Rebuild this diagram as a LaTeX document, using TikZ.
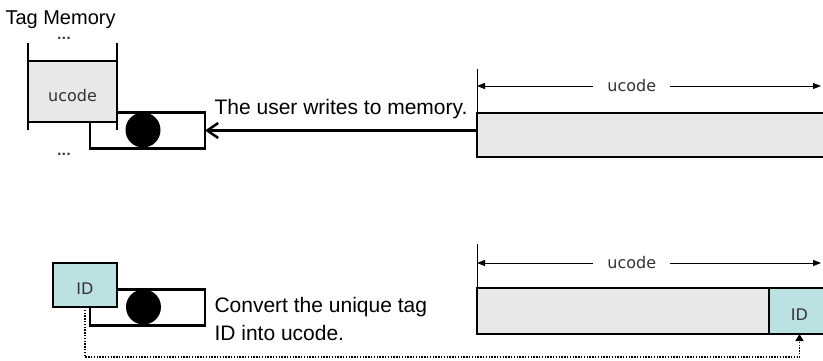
\documentclass[tikz,border=0pt]{standalone}
\usepackage{fontspec}
\setmainfont{Liberation Sans}
\newfontfamily\tagfont{DejaVu Sans}
\usetikzlibrary{arrows.meta, positioning}

\definecolor{cellgray}{HTML}{E8E8E8}
\definecolor{idcyan}{HTML}{BBE1E3}
\definecolor{labelgray}{HTML}{333333}

\begin{document}
\begin{tikzpicture}[x=1pt, y=-1pt,
    box/.style={draw, line width=2.5pt, inner sep=0pt, outer sep=0pt},
    reader/.style={box, fill=white, minimum width=115pt, minimum height=36pt},
    tag/.style={font=\tagfont\fontsize{16}{18}\selectfont, text=labelgray},
    idbox/.style={box, tag, fill=idcyan},
    body/.style={font=\fontsize{21}{28}\selectfont},
    column/.style={line width=2pt},
    dimline/.style={line width=0.8pt,
        {Triangle[length=8pt,width=6pt]}-{Triangle[length=8pt,width=6pt]}},
    writearrow/.style={line width=2.5pt, -{Straight Barb[length=11pt,width=15pt]}},
    idlink/.style={line width=1.6pt, dash pattern=on 1.4pt off 1.4pt,
        -{Triangle[length=7pt,width=8pt]}},
  ]
\useasboundingbox (0,0) rectangle (823,361);

% tag memory with the reader underneath
\node [font=\fontsize{20}{24}\selectfont, anchor=base west] (title) at (2,25) {Tag Memory};
\node [reader] (reader1) at (147.5,130.5) {};
\fill (143,130) circle [radius=17.5pt];
\node [tag, fill=cellgray, minimum width=89pt, minimum height=61pt, inner sep=0pt] (memcell) at (72.5,91.5) {};
\node [tag] at ([yshift=-4pt]memcell.center) {ucode};
\draw [column] ([yshift=18pt]memcell.north west) -- ([yshift=-8pt]memcell.south west);
\draw [column] ([yshift=18pt]memcell.north east) -- ([yshift=-8pt]memcell.south east);
\draw [column] (memcell.north west) -- (memcell.north east);
\draw [column] (memcell.south west) -- (memcell.south east);
\node [tag, font=\tagfont\bfseries\fontsize{12}{12}\selectfont, anchor=base] (dotsup) at (64,40) {...};
\node [tag, font=\tagfont\bfseries\fontsize{12}{12}\selectfont, anchor=base] (dotsdown) at (64,155) {...};

% ucode written by the user
\node [box, fill=cellgray, minimum width=353pt, minimum height=44pt, anchor=north west] (topbar) at (477,113) {};
\draw [line width=0.8pt] (topbar.north west) -- ++(0,-44);
\draw [dimline] (topbar.north west |- 0,86) -- (821,86)
    node [pos=0.45, tag, fill=white, inner xsep=14pt] (topdim) {ucode};
\draw [writearrow] (topbar.west |- reader1.east) -- (reader1.east)
    node [midway, above=7pt, body] (writelabel) {The user writes to memory.};

% unique tag ID converted into ucode
\node [reader] (reader2) at (147.5,307.5) {};
\fill (143.5,307) circle [radius=17.5pt];
\node [idbox, minimum width=64pt, minimum height=44pt, anchor=north west] (tagid) at (53,263) {};
\node [tag] at ([yshift=-4pt]tagid.center) {ID};
\node [body, align=left, right=6pt of reader2, yshift=-11pt] (convertlabel)
    {Convert the unique tag\\ID into ucode.};

\node [box, fill=cellgray, minimum width=292pt, minimum height=46pt, anchor=north west] (botbar) at (477,288) {};
\node [idbox, minimum width=61pt, minimum height=46pt, anchor=north west] (barid) at (769,288) {};
\node [tag] at ([yshift=-4pt]barid.center) {ID};
\draw [line width=0.8pt] (botbar.north west) -- ++(0,-44);
\draw [dimline] (botbar.north west |- 0,263) -- (821,263)
    node [pos=0.45, tag, fill=white, inner xsep=14pt] (botdim) {ucode};

\coordinate (turn) at (86,357);
\draw [idlink] (tagid.south) |- (barid.south |- turn) -- (barid.south);
\end{tikzpicture}
\end{document}
